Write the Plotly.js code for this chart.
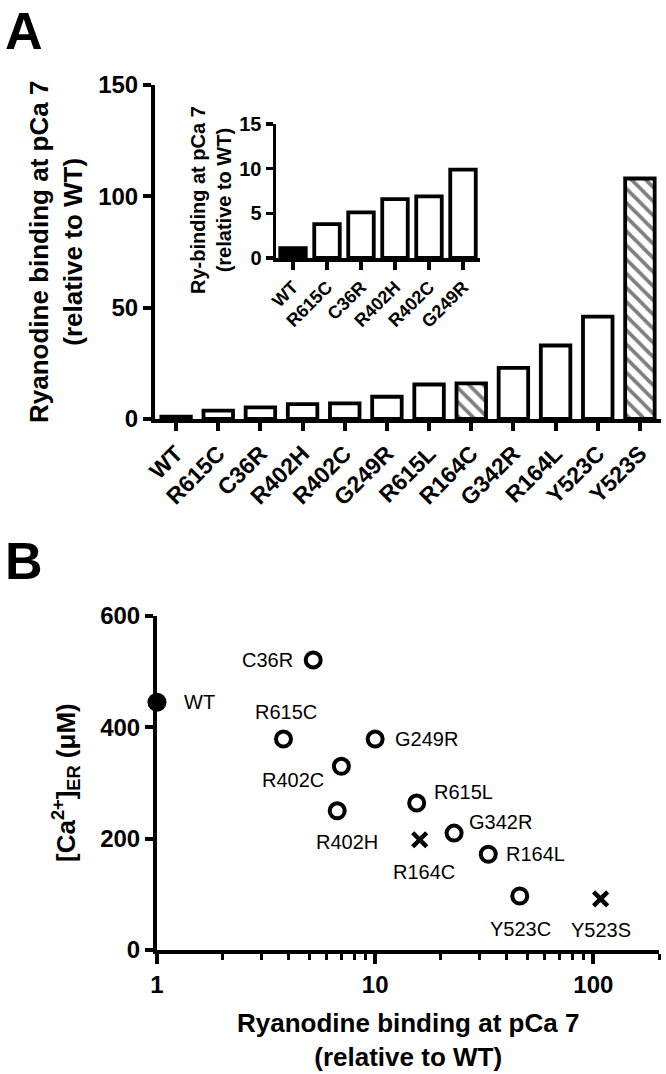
<!DOCTYPE html>
<html>
<head>
<meta charset="utf-8">
<script src="https://cdn.plot.ly/plotly-3.0.1.min.js"></script>
<style>html,body{margin:0;padding:0;background:#fff;}#chart{width:666px;height:1074px;}</style>
</head>
<body>
<div id="chart"></div>
<script>
// ---- data ----
const mutants = ['WT','R615C','C36R','R402H','R402C','G249R','R615L','R164C','G342R','R164L','Y523C','Y523S'];
const binding = [1.0, 3.8, 5.2, 6.7, 7.0, 10.0, 15.5, 16.0, 23.0, 33.0, 46.0, 108.0];
const group   = ['wt','open','open','open','open','open','open','hatch','open','open','open','hatch'];
const insetMutants = ['WT','R615C','C36R','R402H','R402C','G249R'];
const insetBinding = [1.1, 3.8, 5.1, 6.6, 6.9, 9.9];
const caER = [445, 379, 521, 250, 330, 379, 264, 198, 210, 172, 97, 92];
const mainYTicks = [0, 50, 100, 150];
const insetYTicks = [0, 5, 10, 15];
const bYTicks = [0, 200, 400, 600];
const bXTicks = [1, 10, 100];
const bXMinor = [2,3,4,5,6,7,8,9,20,30,40,50,60,70,80,90,200];

// ---- helpers ----
const W = 666, H = 1074;
const px = v => v / W;
const py = v => 1 - v / H;
const FONT = 'Arial, "Liberation Sans", sans-serif';

function subset(g){
  const idx = group.map((v,i)=> v===g ? i : -1).filter(i=>i>=0);
  return {m: idx.map(i=>mutants[i]), b: idx.map(i=>binding[i]), c: idx.map(i=>caER[i])};
}
const gWT = subset('wt'), gOpen = subset('open'), gHatch = subset('hatch');

const baseAxis = {
  showline: true, linecolor: 'black', linewidth: 4,
  ticks: 'outside', ticklen: 8, tickwidth: 4, tickcolor: 'black',
  showgrid: false, zeroline: false, fixedrange: true
};
const barLine = {color: 'black', width: 3.8};

const traces = [
  // panel A main bars, one trace per style
  {type:'bar', x:gWT.m, y:gWT.b, xaxis:'x', yaxis:'y', width:0.7,
   marker:{color:'black', line:barLine}, hoverinfo:'skip'},
  {type:'bar', x:gOpen.m, y:gOpen.b, xaxis:'x', yaxis:'y', width:0.7,
   marker:{color:'white', line:barLine}, hoverinfo:'skip'},
  {type:'bar', x:gHatch.m, y:gHatch.b, xaxis:'x', yaxis:'y', width:0.7,
   marker:{color:'white', line:barLine,
     pattern:{shape:'\\', fgcolor:'black', bgcolor:'white', size:10, solidity:0.38, fillmode:'overlay'}},
   hoverinfo:'skip'},
  // inset bars
  {type:'bar', x:insetMutants, y:insetBinding, xaxis:'x2', yaxis:'y2', width:0.75,
   marker:{color: insetMutants.map(m => group[mutants.indexOf(m)] === 'wt' ? 'black' : 'white'), line:barLine},
   hoverinfo:'skip'},
  // panel B points
  {type:'scatter', mode:'markers', x:gWT.b, y:gWT.c, xaxis:'x3', yaxis:'y3', cliponaxis:false,
   marker:{symbol:'circle', size:19, color:'black'}, hoverinfo:'skip'},
  {type:'scatter', mode:'markers', x:gOpen.b, y:gOpen.c, xaxis:'x3', yaxis:'y3', cliponaxis:false,
   marker:{symbol:'circle-open', size:15, color:'black', line:{width:4, color:'black'}}, hoverinfo:'skip'},
  {type:'scatter', mode:'markers', x:gHatch.b, y:gHatch.c, xaxis:'x3', yaxis:'y3', cliponaxis:false,
   marker:{symbol:'x-thin-open', size:14, color:'black', line:{width:4.5, color:'black'}}, hoverinfo:'skip'}
];

// label offsets for panel B (px)
const labelPos = {
  'WT':    {dx: 25,  dy: 0,   anchor:'left'},
  'C36R':  {dx: -18, dy: 0,   anchor:'right'},
  'R615C': {dx: 3,   dy: 27,  anchor:'center'},
  'G249R': {dx: 18,  dy: 0,   anchor:'left'},
  'R402C': {dx: -48, dy: -14, anchor:'center'},
  'R615L': {dx: 15,  dy: 11,  anchor:'left'},
  'R402H': {dx: 10,  dy: -31, anchor:'center'},
  'G342R': {dx: 13,  dy: 11,  anchor:'left'},
  'R164C': {dx: 4,   dy: -32, anchor:'center'},
  'R164L': {dx: 16,  dy: 0,   anchor:'left'},
  'Y523C': {dx: 1,   dy: -33, anchor:'center'},
  'Y523S': {dx: 0,   dy: -31, anchor:'center'}
};

const annotations = [];
mutants.forEach((m,i)=>{
  const p = labelPos[m];
  annotations.push({
    xref:'x3', yref:'y3', x: Math.log10(binding[i]), y: caER[i],
    text: m, showarrow:false, xanchor:p.anchor, yanchor:'middle',
    xshift:p.dx, yshift:p.dy,
    font:{family:FONT, size:20, color:'black'}
  });
});
// panel letters
annotations.push({xref:'paper', yref:'paper', x:px(3), y:py(0), xanchor:'left', yanchor:'top',
  text:'<b>A</b>', showarrow:false, font:{family:FONT, size:52, color:'black'}});
annotations.push({xref:'paper', yref:'paper', x:px(3), y:py(530), xanchor:'left', yanchor:'top',
  text:'<b>B</b>', showarrow:false, font:{family:FONT, size:52, color:'black'}});
// axis titles
annotations.push({xref:'paper', yref:'paper', x:px(56), y:py(252), xanchor:'center', yanchor:'middle',
  textangle:-90, text:'<b>Ryanodine binding at pCa 7<br>(relative to WT)</b>', showarrow:false,
  font:{family:FONT, size:26, color:'black'}});
annotations.push({xref:'paper', yref:'paper', x:px(211), y:py(200), xanchor:'center', yanchor:'middle',
  textangle:-90, text:'<b>Ry-binding at pCa 7<br>(relative to WT)</b>', showarrow:false,
  font:{family:FONT, size:20, color:'black'}});
annotations.push({xref:'paper', yref:'paper', x:px(66), y:py(783), xanchor:'center', yanchor:'middle',
  textangle:-90, text:'<b>[Ca<sup>2+</sup>]<sub>ER</sub> (μM)</b>', showarrow:false,
  font:{family:FONT, size:26, color:'black'}});
annotations.push({xref:'paper', yref:'paper', x:px(408), y:py(1040), xanchor:'center', yanchor:'middle',
  text:'<b>Ryanodine binding at pCa 7<br>(relative to WT)</b>', showarrow:false,
  font:{family:FONT, size:26, color:'black'}});

const layout = {
  width: W, height: H,
  margin: {l:0, r:0, t:0, b:0},
  paper_bgcolor: 'white', plot_bgcolor: 'rgba(0,0,0,0)',
  showlegend: false, barmode: 'overlay',
  font: {family: FONT, color: 'black'},
  xaxis: Object.assign({}, baseAxis, {
    domain: [px(155), px(661)], anchor: 'y', type: 'category',
    categoryorder: 'array', categoryarray: mutants,
    range: [-0.5, mutants.length - 0.5], tickangle: -45,
    tickfont: {family: FONT, size: 23, color: 'black', weight: 'bold'}
  }),
  yaxis: Object.assign({}, baseAxis, {
    domain: [py(419), py(85)], anchor: 'x', range: [0, 150],
    tickvals: mainYTicks, ticktext: mainYTicks.map(String),
    tickfont: {family: FONT, size: 24, color: 'black', weight: 'bold'}
  }),
  xaxis2: Object.assign({}, baseAxis, {
    domain: [px(276), px(480)], anchor: 'y2', type: 'category',
    categoryorder: 'array', categoryarray: insetMutants,
    range: [-0.5, insetMutants.length - 0.5], tickangle: -45,
    linewidth: 3.5, tickwidth: 3.5, ticklen: 8,
    tickfont: {family: FONT, size: 18, color: 'black', weight: 'bold'}
  }),
  yaxis2: Object.assign({}, baseAxis, {
    domain: [py(258), py(124)], anchor: 'x2', range: [0, 15],
    linewidth: 3.5, tickwidth: 3.5, ticklen: 7,
    tickvals: insetYTicks, ticktext: insetYTicks.map(String),
    tickfont: {family: FONT, size: 20, color: 'black', weight: 'bold'}
  }),
  xaxis3: Object.assign({}, baseAxis, {
    domain: [px(157), px(659)], anchor: 'y3', type: 'log',
    range: [0, Math.log10(200)], ticklen: 10,
    tickvals: bXTicks, ticktext: bXTicks.map(String),
    minor: {tickvals: bXMinor, ticks: 'outside', ticklen: 6, tickwidth: 3, tickcolor: 'black', showgrid: false},
    tickfont: {family: FONT, size: 24, color: 'black', weight: 'bold'}
  }),
  yaxis3: Object.assign({}, baseAxis, {
    domain: [py(950), py(616)], anchor: 'x3', range: [0, 600],
    tickvals: bYTicks, ticktext: bYTicks.map(String),
    tickfont: {family: FONT, size: 24, color: 'black', weight: 'bold'}
  }),
  annotations: annotations
};

Plotly.newPlot('chart', traces, layout, {staticPlot: true, displayModeBar: false});
</script>
</body>
</html>
